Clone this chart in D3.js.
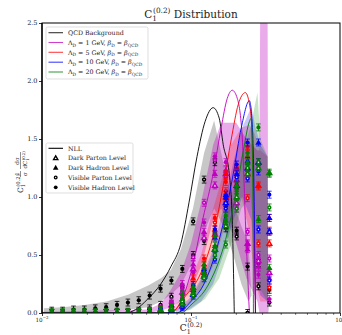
<!DOCTYPE html>
<html><head><meta charset="utf-8">
<script src="https://cdn.jsdelivr.net/npm/d3@7"></script>
<style>body{margin:0;background:#fff}svg{display:block}text{font-family:"DejaVu Serif","Liberation Serif",serif;fill:#222}</style>
</head><body><svg id="c" width="342" height="335"></svg>
<script>
// ---------------- DATA ----------------
const binX = [0.01163,0.01375,0.01627,0.01925,0.02278,0.02694,0.03188,0.03772,0.04462,0.05279,0.06246,0.07389,0.08742,0.1034,0.1224,0.1447,0.1713,0.2026,0.2397,0.2836,0.3355];

const seriesNames = ["QCD Background","1 GeV","5 GeV","10 GeV","20 GeV"];
const seriesColors = ["#000000","#bf00bf","#ff0000","#0000ff","#008000"];

// NLL curves
const nllQcdX = [0.01,0.0364,0.0425,0.0512,0.0627,0.0733,0.0856,0.0969,0.1098,0.1243,0.1408,0.1546,0.1646,0.1806,0.1892,0.1952];
const nllQcdY = [0,0,0.03,0.12,0.25,0.4,0.6,0.95,1.35,1.65,1.77,1.68,1.45,1.2,0.8,0];
const nll1X = [0.01,0.0710,0.0856,0.1,0.1205,0.1408,0.1595,0.1751,0.1892,0.2045,0.2211,0.2317,0.2465];
const nll1Y = [0,0,0.1,0.35,0.82,1.2,1.6,1.85,1.92,1.85,1.5,0.8,0];
const nll5X = [0.01,0.0733,0.0897,0.1168,0.1430,0.1646,0.1864,0.2078,0.2317,0.2504,0.2624,0.2707];
const nll5Y = [0,0,0.13,0.35,0.7,1.1,1.5,1.8,1.9,1.75,1.1,0];
const nll10X = [0.01,0.0792,0.1,0.1243,0.1595,0.1922,0.2177,0.2465,0.2584,0.2666,0.2707];
const nll10Y = [0,0,0.1,0.27,0.7,1.2,1.6,1.83,1.6,0.8,0];
const nll20X = [0.01,0.0856,0.1,0.1302,0.1671,0.1983,0.2246,0.2465,0.2543,0.2603,0.2624];
const nll20Y = [0,0,0.07,0.24,0.59,1.0,1.4,1.65,1.68,1.0,0];

// uncertainty bands
const bandQcdX  = [0.0103,0.01365,0.01922,0.02706,0.0381,0.0520,0.0627,0.0733,0.0856,0.1031,0.1224,0.1430,0.1646,0.1922,0.2177,0.2427,0.2550];
const bandQcdLo = [0,0,0,0.01,0.03,0.05,0.1,0.16,0.24,0.45,0.7,0.9,0.75,0.5,0.25,0.1,0.15];
const bandQcdHi = [0.04,0.05,0.07,0.1,0.16,0.24,0.3,0.37,0.55,0.9,1.38,1.66,1.3,0.95,0.75,0.6,0.15];
const band1X  = [0.01,0.0512,0.0627,0.0733,0.0856,0.1,0.1168,0.1408,0.1595,0.1751,0.2013,0.2352,0.2792,0.2880,0.2925,0.3262,0.3300];
const band1Lo = [0,0,0.02,0.05,0.1,0.2,0.4,0.8,0.9,0.8,0.6,0.3,0.1,0,0,0,0];
const band1Hi = [0.01,0.03,0.08,0.2,0.35,0.6,0.95,1.45,1.64,1.64,1.64,1.5,1.4,1.4,3,3,0];
const band5X  = [0.0733,0.0856,0.1,0.1168,0.1408,0.1646,0.1864,0.2177,0.2465,0.2666,0.2925,0.3262,0.33];
const band5Lo = [0,0.03,0.1,0.2,0.4,0.7,0.9,1.0,0.7,0.3,0.1,0.1,0];
const band5Hi = [0.03,0.12,0.3,0.5,0.9,1.2,1.45,1.6,1.62,1.55,1.4,1.35,0];
const band10X  = [0.0792,0.0969,0.1168,0.1408,0.1646,0.1922,0.2211,0.2543,0.2707,0.2925,0.3262,0.33];
const band10Lo = [0,0.03,0.1,0.25,0.5,0.8,1.0,0.8,0.3,0.15,0.1,0];
const band10Hi = [0.03,0.12,0.3,0.55,0.9,1.3,1.6,1.78,1.6,1.45,1.35,0];
const band20X  = [0.0856,0.1,0.1243,0.1546,0.1864,0.2177,0.2504,0.2792,0.2925,0.3262,0.33];
const band20Lo = [0,0.03,0.12,0.3,0.6,0.9,1.0,0.5,0.2,0.1,0];
const band20Hi = [0.03,0.12,0.35,0.65,1.0,1.35,1.6,1.9,1.5,1.35,0];

// points (values per bin)  VH = visible hadron, VP = visible parton, DH = dark hadron, DP = dark parton
const qcdVH = [0.02,0.02,0.03,0.03,0.04,0.05,0.07,0.09,0.11,0.15,0.21,0.28,0.38,0.5,0.62,0.7,0.73,0.71,0.4,0.43,0.2];
const qcdVP = [0,0,0,0,0,0,0,0.01,0.02,0.04,0.07,0.14,0.22,0.79,1.15,1.3,0.95,0.66,0,0.23,0.09];
const m1VH = [0,0,0,0,0,0,0,0,0.01,0.01,0.03,0.08,0.2,0.35,0.78,1.35,1.3,1.1,0.59,0.33,0.12];
const m1VP = [0,0,0,0,0,0,0,0,0,0.01,0.02,0.05,0.15,0.48,0.95,1.32,1.18,0.9,0.7,0.5,0.47];
const m1DH = [0,0,0,0,0,0,0,0,0.01,0.02,0.04,0.1,0.25,0.42,0.7,1.2,1.23,1.0,0.55,0.4,0.3];
const m1DP = [0,0,0,0,0,0,0,0,0,0.01,0.03,0.07,0.18,0.38,0.65,1.1,1.2,0.95,0.6,0.45,0.35];
const m5VH = [0,0,0,0,0,0,0,0,0,0.01,0.02,0.04,0.1,0.24,0.47,0.82,1.13,1.23,1.43,1.09,0.71];
const m5VP = [0,0,0,0,0,0,0,0,0,0,0.01,0.03,0.07,0.18,0.38,0.78,1.05,1.08,0.99,0.6,0.22];
const m5DH = [0,0,0,0,0,0,0,0,0,0.01,0.02,0.05,0.12,0.3,0.42,0.72,1.2,1.25,1.35,1.3,0.82];
const m5DP = [0,0,0,0,0,0,0,0,0,0,0.01,0.04,0.09,0.22,0.35,0.68,1.0,1.15,1.2,1.1,0.6];
const m10VH = [0,0,0,0,0,0,0,0,0,0,0.01,0.03,0.08,0.24,0.35,0.72,0.99,1.28,1.47,1.22,1.02];
const m10VP = [0,0,0,0,0,0,0,0,0,0,0.01,0.02,0.05,0.15,0.3,0.46,0.9,1.17,1.16,0.72,0.28];
const m10DH = [0,0,0,0,0,0,0,0,0,0,0.01,0.03,0.09,0.2,0.38,0.65,1.02,1.2,1.31,1.47,0.82];
const m10DP = [0,0,0,0,0,0,0,0,0,0,0,0.02,0.06,0.16,0.32,0.55,0.95,1.1,1.25,1.3,0.7];
const m20VH = [0.01,0.01,0.01,0.01,0.01,0.01,0.01,0.01,0.01,0.02,0.03,0.07,0.16,0.2,0.41,0.66,0.84,1.05,1.38,1.6,1.2];
const m20VP = [0,0,0,0,0,0,0,0,0,0.01,0.02,0.04,0.1,0.15,0.3,0.5,0.59,0.9,1.25,1.3,0.91];
const m20DH = [0,0,0,0,0,0,0,0,0.01,0.01,0.02,0.05,0.12,0.22,0.35,0.58,0.8,1.1,1.3,0.81,0.39];
const m20DP = [0,0,0,0,0,0,0,0,0,0.01,0.02,0.04,0.08,0.17,0.32,0.55,0.75,1.0,1.2,1.25,1.21];
const errHalf = 0.03;

const yTicks = [0,0.5,1.0,1.5,2.0,2.5];
const xMajor = [0.01,0.1,1];
const xMajorExp = ["−2","−1","0"];
const xMinor = [0.02,0.03,0.04,0.05,0.06,0.07,0.08,0.09,0.2,0.3,0.4,0.5,0.6,0.7,0.8,0.9];

// ---------------- CHART ----------------
const svg = d3.select("#c");
const L = 42, R = 340, T = 23, B = 313;
const x = d3.scaleLog().domain([0.01,1]).range([L,R]);
const y = d3.scaleLinear().domain([0,2.5]).range([B,T]);

svg.append("defs").append("clipPath").attr("id","pc")
  .append("rect").attr("x",L).attr("y",T).attr("width",R-L).attr("height",B-T);
const plot = svg.append("g").attr("clip-path","url(#pc)");

// bands
const bands = [
  [bandQcdX,bandQcdLo,bandQcdHi,"#000000",0.22],
  [band1X,band1Lo,band1Hi,"#bf00bf",0.33],
  [band5X,band5Lo,band5Hi,"#ff0000",0.22],
  [band10X,band10Lo,band10Hi,"#0000ff",0.22],
  [band20X,band20Lo,band20Hi,"#008000",0.22]
];
const area = d3.area().x(d=>x(d[0])).y0(d=>y(d[1])).y1(d=>y(d[2]));
bands.forEach(([bx,lo,hi,c,a])=>{
  plot.append("path").datum(bx.map((v,i)=>[v,lo[i],hi[i]]))
    .attr("d",area).attr("fill",c).attr("fill-opacity",a).attr("stroke","none");
});

// NLL lines
const nlls = [[nllQcdX,nllQcdY],[nll1X,nll1Y],[nll5X,nll5Y],[nll10X,nll10Y],[nll20X,nll20Y]];
const line = d3.line().x(d=>x(d[0])).y(d=>y(d[1])).curve(d3.curveMonotoneX);
nlls.forEach(([lx,ly],i)=>{
  plot.append("path").datum(lx.map((v,j)=>[v,ly[j]]))
    .attr("d",line).attr("fill","none").attr("stroke",seriesColors[i]).attr("stroke-width",0.9);
});

// points
const pointSets = [
  [null,null,qcdVP,qcdVH],
  [m1DP,m1DH,m1VP,m1VH],
  [m5DP,m5DH,m5VP,m5VH],
  [m10DP,m10DH,m10VP,m10VH],
  [m20DP,m20DH,m20VP,m20VH]
];
const shapes = ["otri","tri","ocirc","circ"];
function marker(g, shape, cx, cy, col, s){
  if(shape==="circ"){
    g.append("circle").attr("cx",cx).attr("cy",cy).attr("r",2.1*s).attr("fill",col);
  } else if(shape==="ocirc"){
    g.append("circle").attr("cx",cx).attr("cy",cy).attr("r",1.45*s).attr("fill","#fff").attr("stroke",col).attr("stroke-width",1.5*s);
  } else {
    const p = d3.symbol().type(d3.symbolTriangle).size(shape==="tri"?17*s*s:10*s*s)();
    const e = g.append("path").attr("d",p).attr("transform",`translate(${cx},${cy+0.4})`);
    if(shape==="tri") e.attr("fill",col);
    else e.attr("fill","#fff").attr("stroke",col).attr("stroke-width",1.5*s);
  }
}
const ptsG = svg.append("g").attr("clip-path","url(#pc)");
pointSets.forEach((sets,i)=>{
  const col = seriesColors[i];
  sets.forEach((vals,k)=>{
    if(!vals) return;
    vals.forEach((v,j)=>{
      const cx = x(binX[j]), cy = y(v);
      const y1 = y(v+errHalf), y2 = y(Math.max(0,v-errHalf));
      ptsG.append("line").attr("x1",cx).attr("x2",cx).attr("y1",y1).attr("y2",y2).attr("stroke",col).attr("stroke-width",0.8);
      ptsG.append("line").attr("x1",cx-2.3).attr("x2",cx+2.3).attr("y1",y1).attr("y2",y1).attr("stroke",col).attr("stroke-width",0.8);
      ptsG.append("line").attr("x1",cx-2.3).attr("x2",cx+2.3).attr("y1",y2).attr("y2",y2).attr("stroke",col).attr("stroke-width",0.8);
      marker(ptsG, shapes[k], cx, cy, col, 1);
    });
  });
});

// axes
const fs = 6.5;
const yAx = svg.append("g").attr("transform",`translate(${L},0)`)
  .call(d3.axisLeft(y).tickValues(yTicks).tickFormat(d3.format(".1f")).tickSize(3).tickPadding(1.5));
yAx.select(".domain").remove();
yAx.selectAll("text").attr("font-size",fs).attr("font-family","DejaVu Serif, serif").attr("fill","#333").attr("dy","0.3em");
yAx.selectAll("line").attr("stroke","#000").attr("stroke-width",0.8);

const xAx = svg.append("g").attr("transform",`translate(0,${B})`)
  .call(d3.axisBottom(x).tickValues(xMajor).tickFormat(()=>"").tickSize(3));
xAx.select(".domain").remove();
xAx.selectAll("line").attr("stroke","#000").attr("stroke-width",0.8);
const xMin = svg.append("g").attr("transform",`translate(0,${B})`)
  .call(d3.axisBottom(x).tickValues(xMinor).tickFormat(()=>"").tickSize(1.8));
xMin.select(".domain").remove();
xMin.selectAll("line").attr("stroke","#000").attr("stroke-width",0.6);
xMajor.forEach((v,i)=>{
  const t = svg.append("text").attr("x",x(v)).attr("y",B+8.5).attr("text-anchor","middle").attr("font-size",5.6).attr("fill","#333");
  t.append("tspan").text("10");
  t.append("tspan").attr("dy",-2.4).attr("font-size",3.9).text(xMajorExp[i]);
});

// frame
svg.append("rect").attr("x",L).attr("y",T).attr("width",R-L).attr("height",B-T)
  .attr("fill","none").attr("stroke","#000").attr("stroke-width",1);
svg.append("line").attr("x1",L).attr("x2",L).attr("y1",T).attr("y2",B).attr("stroke","#000").attr("stroke-width",1.3);

// math text helper
function mt(t, parts, size){
  let cur = 0;
  parts.forEach(p=>{
    const [txt,m,dx,it] = p;
    const off = m==="sub"? size*0.3 : m==="sup"? -size*0.42 : 0;
    const ts = t.append("tspan").attr("dy",off-cur).attr("font-size", m==="n"? size : size*0.7).text(txt);
    if(dx) ts.attr("dx",dx);
    if(it) ts.attr("font-style","italic");
    cur = off;
  });
  return t;
}
function Cparts(size){ return [["C","n"],["1","sub"],["(0.2)","sup",-size*0.38]]; }

// title
mt(svg.append("text").attr("x",191).attr("y",17.5).attr("text-anchor","middle"),
   [...Cparts(10.5),[" Distribution","n"]],10.5);
// x label
mt(svg.append("text").attr("x",191).attr("y",331).attr("text-anchor","middle"), Cparts(9), 9);

// y label
const yl = svg.append("g").attr("transform","translate(23,171) rotate(-90)");
mt(yl.append("text").attr("x",-22).attr("y",0), Cparts(7.5), 7.5);
yl.append("text").attr("x",-3).attr("y",-4.5).attr("text-anchor","middle").attr("font-size",5.5).text("1");
yl.append("line").attr("x1",-6).attr("x2",0).attr("y1",-2.5).attr("y2",-2.5).attr("stroke","#222").attr("stroke-width",0.5);
yl.append("text").attr("x",-3).attr("y",3.5).attr("text-anchor","middle").attr("font-size",5.5).attr("font-style","italic").text("σ");
yl.append("text").attr("x",10).attr("y",-4.5).attr("text-anchor","middle").attr("font-size",5.5).text("dσ");
yl.append("line").attr("x1",2).attr("x2",19).attr("y1",-2.5).attr("y2",-2.5).attr("stroke","#222").attr("stroke-width",0.5);
mt(yl.append("text").attr("x",2.5).attr("y",4).attr("font-size",5.5), [["dC","n"],["1","sub"],["(0.2)","sup",-2]],5.5);

// legend 1
const lg1 = svg.append("g");
lg1.append("rect").attr("x",46).attr("y",27).attr("width",102).attr("height",52).attr("rx",1.5)
  .attr("fill","#fff").attr("fill-opacity",0.85).attr("stroke","#d0d0d0").attr("stroke-width",0.7);
const lfs = 6.3;
const legendLabels = [
  [["QCD Background","n"]],
  [["Λ","n"],["D","sub"],[" = 1 GeV, ","n"],["β","n",0,true],["D","sub"],[" = ","n"],["β","n",0,true],["QCD","sub"]],
  [["Λ","n"],["D","sub"],[" = 5 GeV, ","n"],["β","n",0,true],["D","sub"],[" = ","n"],["β","n",0,true],["QCD","sub"]],
  [["Λ","n"],["D","sub"],[" = 10 GeV, ","n"],["β","n",0,true],["D","sub"],[" = ","n"],["β","n",0,true],["QCD","sub"]],
  [["Λ","n"],["D","sub"],[" = 20 GeV, ","n"],["β","n",0,true],["D","sub"],[" = ","n"],["β","n",0,true],["QCD","sub"]]
];
const lg1Y = [32.7,42.5,52.3,62.2,72];
legendLabels.forEach((parts,i)=>{
  lg1.append("line").attr("x1",48.5).attr("x2",63).attr("y1",lg1Y[i]).attr("y2",lg1Y[i])
    .attr("stroke",seriesColors[i]).attr("stroke-width",1.1).attr("stroke-opacity",i===0?0.8:0.75);
  mt(lg1.append("text").attr("x",68).attr("y",lg1Y[i]+2.2), parts, lfs);
});

// legend 2
const lg2 = svg.append("g");
lg2.append("rect").attr("x",46).attr("y",143).attr("width",87).attr("height",50).attr("rx",1.5)
  .attr("fill","#fff").attr("fill-opacity",0.85).attr("stroke","#d0d0d0").attr("stroke-width",0.7);
const lg2Labels = ["NLL","Dark Parton Level","Dark Hadron Level","Visible Parton Level","Visible Hadron Level"];
const lg2Y = [148.3,158,167.7,177.5,187.3];
lg2.append("line").attr("x1",48.5).attr("x2",63).attr("y1",lg2Y[0]).attr("y2",lg2Y[0]).attr("stroke","#000").attr("stroke-width",1.1);
shapes.forEach((s,k)=> marker(lg2, s, 55.7, lg2Y[k+1], "#000", 0.9));
lg2Labels.forEach((t,i)=>{
  lg2.append("text").attr("x",68).attr("y",lg2Y[i]+2.2).attr("font-size",lfs).text(t);
});
</script></body></html>
